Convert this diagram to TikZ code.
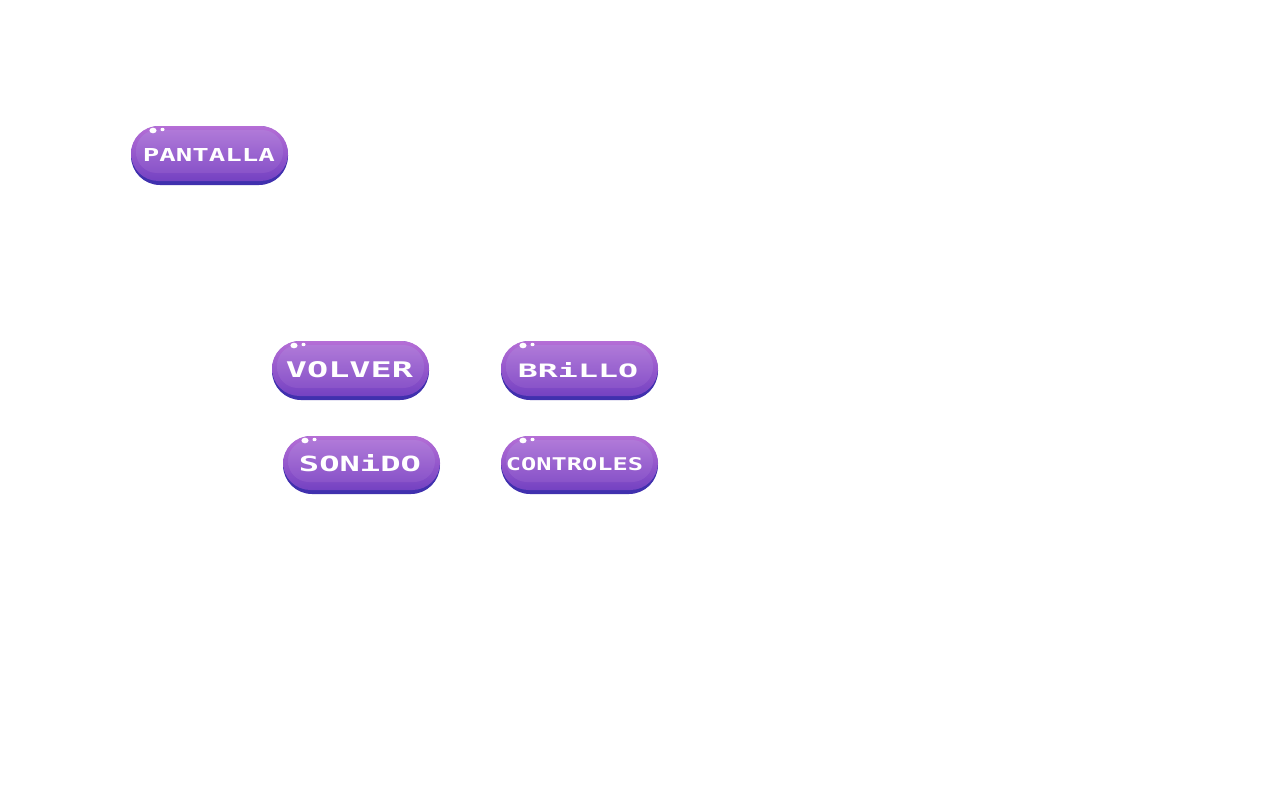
\documentclass[tikz,border=0pt]{standalone}
\usepackage{fontspec}
\setmainfont{DejaVu Sans Mono}
\usepackage{graphicx}
\definecolor{btndark}{HTML}{4030AE}
\definecolor{btntop}{HTML}{B56ED6}
\definecolor{btnbot}{HTML}{7442C2}
\definecolor{intop}{HTML}{B080DA}
\definecolor{inbot}{HTML}{8E58CC}
\tikzset{
  btnbase/.style={fill=btndark, rounded corners=29pt},
  btnmain/.style={top color=btntop, bottom color=btnbot, rounded corners=27.5pt},
  btninner/.style={top color=intop, bottom color=inbot, rounded corners=21pt, opacity=0.7},
  bubble/.style={fill=white},
  btntext/.style={text=white, inner sep=0pt, font=\bfseries}
}
% name, left, top, height, text, text-center, textwidth, textheight
\newcommand\mybtn[8]{%
  \fill[btnbase] (#2,#3) rectangle ++(157,#4);
  \shade[btnmain] (#2,#3) rectangle ++(157,#4-4);
  \shade[btninner] ([shift={(5,4)}]#2,#3) rectangle ++(147,#4-16);
  \fill[bubble] ([shift={(22,4.5)}]#2,#3) ellipse [x radius=3.6pt, y radius=2.8pt];
  \fill[bubble] ([shift={(31.5,3.5)}]#2,#3) ellipse [x radius=2pt, y radius=1.7pt];
  \node[btntext] (#1) at (#6) {\resizebox{#7pt}{#8pt}{#5}};
}
\begin{document}
\begin{tikzpicture}[x=1pt,y=-1pt]
\useasboundingbox[fill=white] (0,0) rectangle (1280,800);
\mybtn{pantalla}{131}{126}{59}{PANTALLA}{209,155}{132}{13}
\mybtn{volver}{272}{341}{59}{VOLVER}{349.5,369.5}{127}{16}
\mybtn{brillo}{501}{341}{59}{BRiLLO}{578,370.5}{120}{15}
\mybtn{sonido}{283}{436}{58}{SONiDO}{360,463.5}{122}{17}
\mybtn{controles}{501}{436}{58}{CONTROLES}{574.5,464.5}{137}{13}
\end{tikzpicture}
\end{document}
